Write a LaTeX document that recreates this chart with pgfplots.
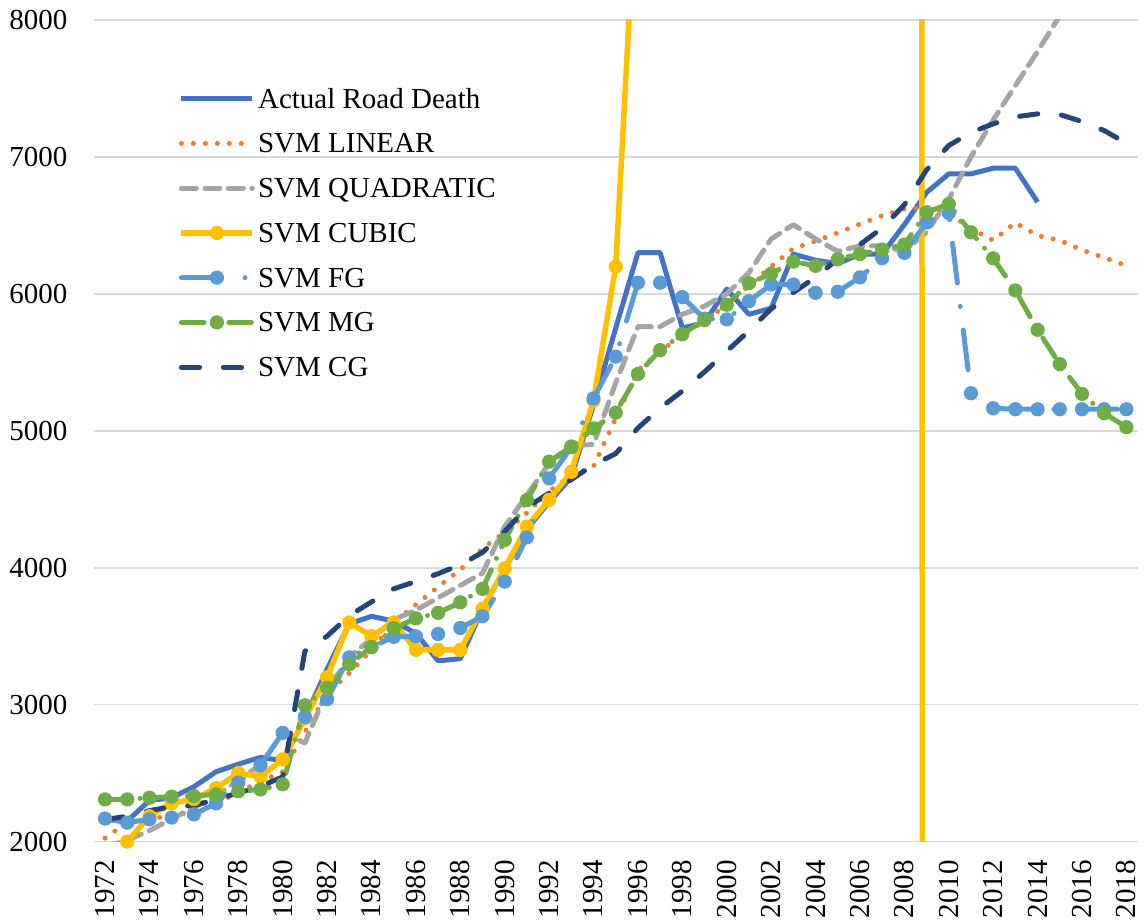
\documentclass[border=0pt]{standalone}
\usepackage{fontspec}
\setmainfont{Liberation Serif}
\usepackage{pgfplots}
\pgfplotsset{compat=1.18}
\definecolor{cA}{HTML}{4472C4}
\definecolor{cL}{HTML}{ED7D31}
\definecolor{cQ}{HTML}{A5A5A5}
\definecolor{cC}{HTML}{FFC000}
\definecolor{cF}{HTML}{5B9BD5}
\definecolor{cM}{HTML}{70AD47}
\definecolor{cG}{HTML}{264478}
\definecolor{gridc}{HTML}{D9D9D9}
\newcommand\lf{\fontsize{11.6}{13.9}\selectfont}
\pgfplotsset{
  legend image code/.code={\draw[mark repeat=2,mark phase=2,#1] plot coordinates {(0pt,0pt)(14.2pt,0pt)(28.4pt,0pt)};},
}
\begin{document}
\begin{tikzpicture}
\begin{axis}[
  scale only axis, width=417.6pt, height=328.8pt,
  xmin=1971.5, xmax=2018.5, ymin=2000, ymax=8000,
  xtick={1972,1974,...,2018}, ytick={2000,3000,...,8000},
  axis line style={draw=none},
  major tick length=0pt,
  ymajorgrids, grid style={color=gridc, line width=0.7pt},
  /pgf/number format/assume math mode=true,
  /pgf/number format/1000 sep={},
  tick label style={font=\lf},
  yticklabel style={anchor=east, inner ysep=0pt, inner xsep=10.4pt},
  xticklabel style={rotate=90, anchor=east, inner ysep=0pt, inner xsep=7.2pt},
  legend style={at={(0.0735,0.938)}, anchor=north west, draw=none, fill=none,
    font=\lf, row sep=0pt, column sep=1.2pt,
    nodes={inner sep=0pt, text height=12.7pt, text depth=5.2pt}},
  legend cell align=left,
  line join=round,
]
\coordinate (SW) at (rel axis cs:0,0);
\coordinate (NE) at (rel axis cs:1,1);
% Actual Road Death
\addplot[cA, line width=2pt, no markers] table {
1972 2160
1973 2150
1974 2300
1975 2320
1976 2400
1977 2510
1978 2565
1979 2615
1980 2590
1981 2900
1982 3260
1983 3590
1984 3645
1985 3610
1986 3520
1987 3320
1988 3335
1989 3700
1990 3990
1991 4280
1992 4480
1993 4660
1994 5190
1995 5750
1996 6300
1997 6300
1998 5750
1999 5790
2000 6035
2001 5850
2002 5895
2003 6290
2004 6245
2005 6220
2006 6290
2007 6290
2008 6505
2009 6740
2010 6876
2011 6876
2012 6917
2013 6917
2014 6670
};
\addlegendentry{Actual Road Death}
% SVM LINEAR
\addplot[cL, line width=2pt, no markers, line cap=round, dash pattern=on 0pt off 4.8pt] table {
1972 2025
1973 2140
1974 2165
1975 2190
1976 2215
1977 2275
1978 2360
1979 2440
1980 2510
1981 2800
1982 3080
1983 3230
1984 3400
1985 3600
1986 3730
1987 3860
1988 3985
1989 4140
1990 4260
1991 4400
1992 4560
1993 4670
1994 4740
1995 5090
1996 5440
1997 5580
1998 5700
1999 5800
2000 5920
2001 6060
2002 6200
2003 6330
2004 6385
2005 6445
2006 6510
2007 6570
2008 6620
2009 6630
2010 6590
2011 6475
2012 6390
2013 6520
2014 6425
2015 6390
2016 6320
2017 6265
2018 6205
};
\addlegendentry{SVM LINEAR}
% SVM QUADRATIC
\addplot[cQ, line width=2pt, no markers, line cap=round, dash pattern=on 6pt off 3.4pt] table {
1972 1960
1973 2010
1974 2080
1975 2165
1976 2250
1977 2330
1978 2450
1979 2560
1980 2790
1981 2720
1982 3100
1983 3350
1984 3480
1985 3620
1986 3690
1987 3780
1988 3870
1989 3960
1990 4300
1991 4530
1992 4760
1993 4890
1994 4900
1995 5350
1996 5760
1997 5760
1998 5850
1999 5910
2000 6000
2001 6155
2002 6400
2003 6505
2004 6400
2005 6310
2006 6350
2007 6350
2008 6310
2009 6450
2010 6690
2011 7000
2012 7270
2013 7520
2014 7770
2015 8030
2016 8350
2017 8700
2018 9100
};
\addlegendentry{SVM QUADRATIC}
% SVM CUBIC
\addplot[cC, line width=2.2pt, mark=*, mark size=2.6pt, mark options={solid, line width=0.5pt, fill=cC}] table {
1973 2000
1974 2185
1975 2280
1976 2310
1977 2390
1978 2500
1979 2475
1980 2600
1981 2900
1982 3200
1983 3600
1984 3500
1985 3600
1986 3400
1987 3400
1988 3400
1989 3700
1990 3995
1991 4300
1992 4495
1993 4700
1994 5220
1995 6200
1996 9220
1997 14000
1998 20000
1999 28000
2000 37000
2001 47000
2002 58000
2003 70000
2004 84000
2005 99000
2006 115000
2007 135000
2008 165000
2009 -35000
2010 -35000
2011 -35000
2012 -35000
2013 -35000
2014 -35000
2015 -35000
2016 -35000
2017 -35000
2018 -35000
};
\addlegendentry{SVM CUBIC}
% SVM FG
\addplot[cF, line width=2pt, line cap=round, dash pattern=on 16pt off 9.5pt on 0pt off 9.5pt, mark=*, mark size=2.6pt, mark options={solid, line width=0.5pt, fill=cF}] table {
1972 2168
1973 2138
1974 2163
1975 2175
1976 2199
1977 2279
1978 2430
1979 2556
1980 2794
1981 2910
1982 3040
1983 3345
1984 3420
1985 3495
1986 3499
1987 3516
1988 3560
1989 3645
1990 3898
1991 4221
1992 4652
1993 4880
1994 5236
1995 5541
1996 6081
1997 6081
1998 5976
1999 5818
2000 5813
2001 5946
2002 6068
2003 6068
2004 6007
2005 6015
2006 6120
2007 6260
2008 6299
2009 6520
2010 6590
2011 5274
2012 5164
2013 5157
2014 5157
2015 5157
2016 5157
2017 5157
2018 5157
};
\addlegendentry{SVM FG}
% SVM MG
\addplot[cM, line width=2pt, line cap=round, dash pattern=on 9pt off 5pt on 0pt off 5pt, mark=*, mark size=2.6pt, mark options={solid, line width=0.5pt, fill=cM}] table {
1972 2308
1973 2308
1974 2320
1975 2328
1976 2333
1977 2345
1978 2367
1979 2381
1980 2418
1981 2995
1982 3122
1983 3295
1984 3420
1985 3558
1986 3630
1987 3670
1988 3747
1989 3845
1990 4202
1991 4494
1992 4774
1993 4885
1994 5017
1995 5132
1996 5414
1997 5589
1998 5706
1999 5808
2000 5920
2001 6077
2002 6146
2003 6235
2004 6204
2005 6252
2006 6290
2007 6323
2008 6359
2009 6595
2010 6655
2011 6449
2012 6259
2013 6024
2014 5737
2015 5486
2016 5269
2017 5128
2018 5026
};
\addlegendentry{SVM MG}
% SVM CG
\addplot[cG, line width=2pt, no markers, line cap=round, dash pattern=on 7.3pt off 9.5pt] table {
1972 2160
1973 2185
1974 2226
1975 2255
1976 2263
1977 2307
1978 2355
1979 2404
1980 2472
1981 3390
1982 3500
1983 3650
1984 3750
1985 3845
1986 3900
1987 3956
1988 4022
1989 4111
1990 4265
1991 4440
1992 4545
1993 4643
1994 4752
1995 4833
1996 5020
1997 5166
1998 5290
1999 5430
2000 5580
2001 5730
2002 5890
2003 6010
2004 6120
2005 6255
2006 6360
2007 6480
2008 6650
2009 6905
2010 7083
2011 7178
2012 7241
2013 7292
2014 7314
2015 7309
2016 7258
2017 7192
2018 7100
};
\addlegendentry{SVM CG}
\end{axis}
\pgfresetboundingbox
\path ([shift={(-37.6pt,-31.6pt)}]SW) rectangle ([shift={(2.2pt,8pt)}]NE);
\end{tikzpicture}
\end{document}
